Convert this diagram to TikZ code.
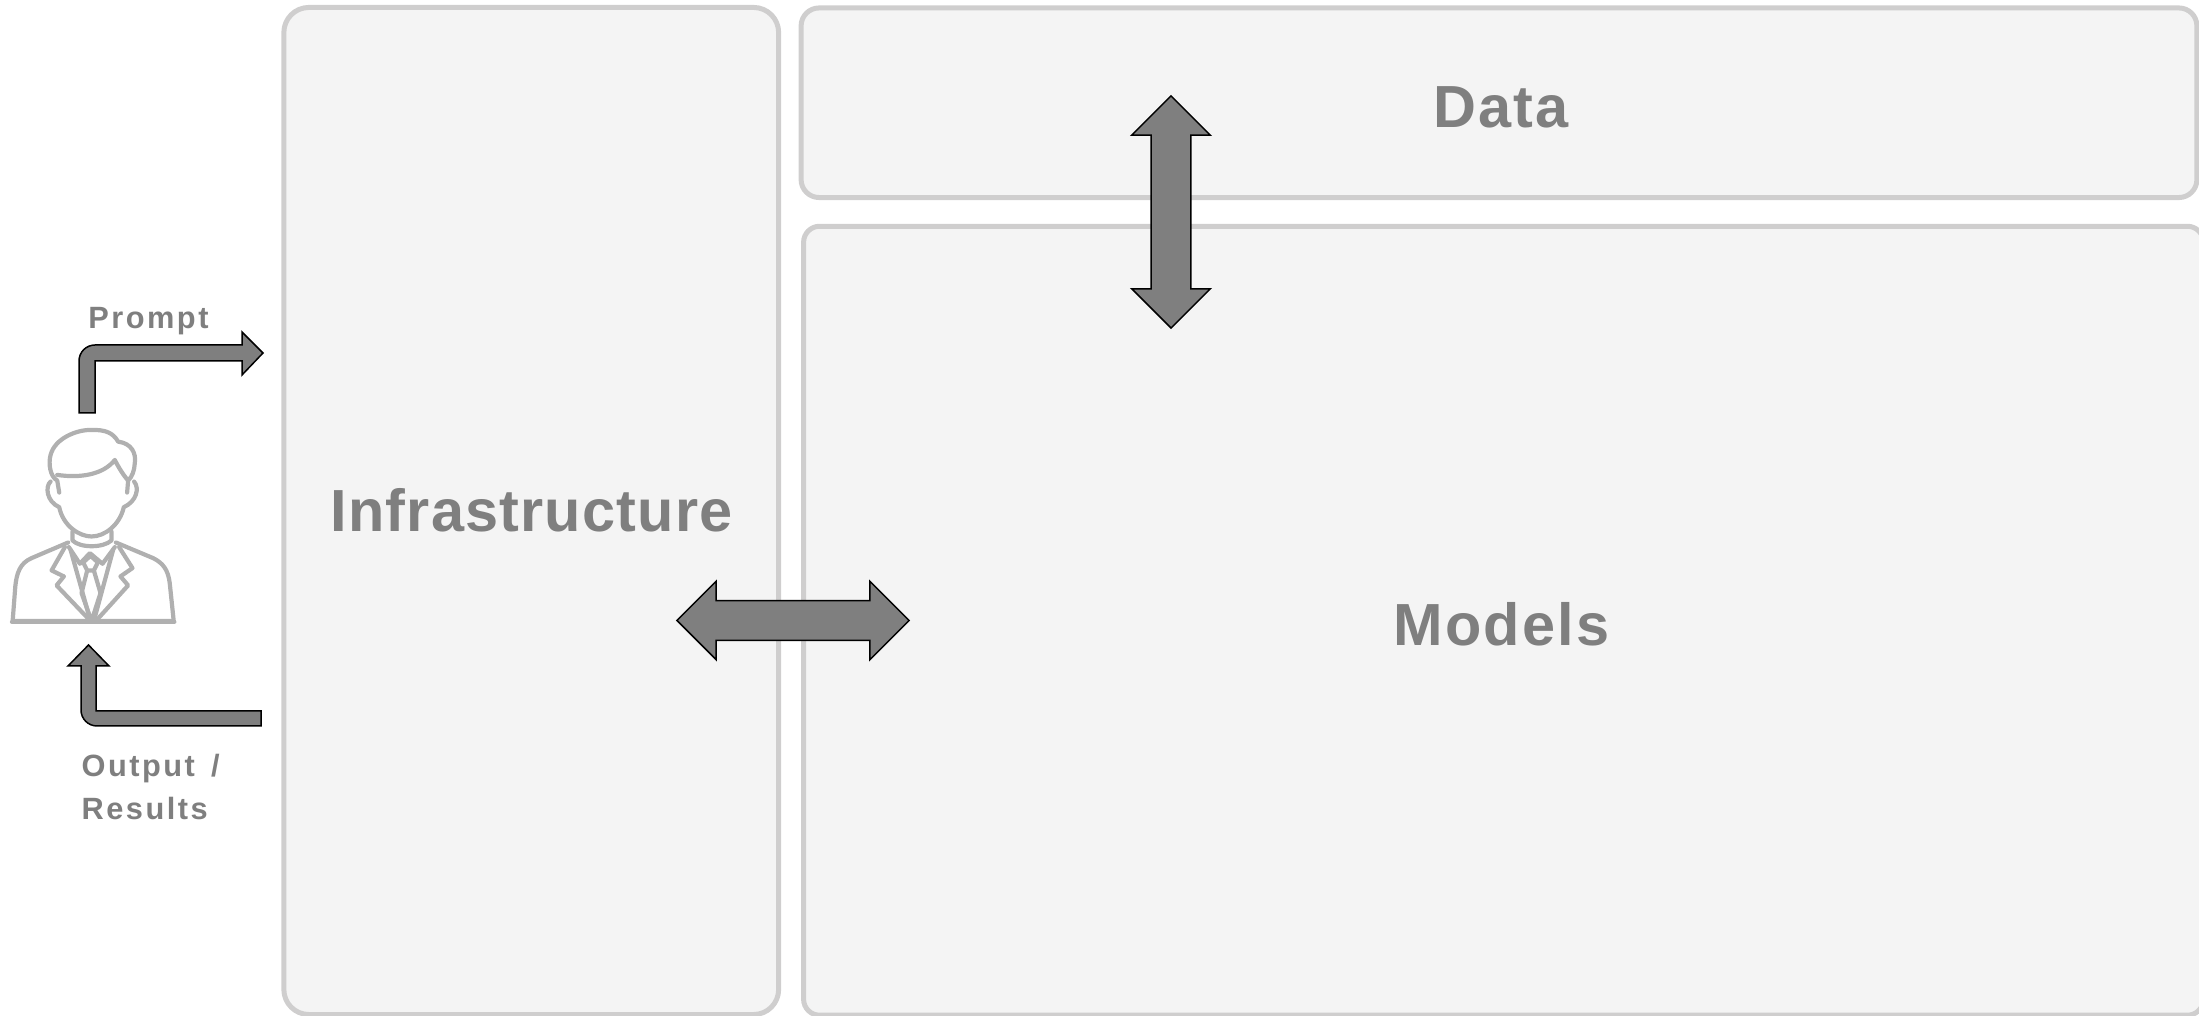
\documentclass[tikz,border=0pt]{standalone}
\usepackage{fontspec}
\usetikzlibrary{shapes.arrows}
\setmainfont{Liberation Sans}
\newfontfamily\headfont[LetterSpace=4]{Liberation Sans}
\newfontfamily\widehead[LetterSpace=2]{Liberation Sans}
\newfontfamily\smallfont[LetterSpace=8]{Liberation Sans}
\definecolor{panelfill}{HTML}{F4F4F4}
\definecolor{panelline}{HTML}{CFCECE}
\definecolor{inkgray}{HTML}{7F7F7F}
\definecolor{icongray}{HTML}{B0B0B0}
\begin{document}
\begin{tikzpicture}[
    x=0.01cm, y=-0.01cm,
    panel/.style={draw=panelline, fill=panelfill, line width=0.05cm, rounded corners=#1, inner sep=0, outer sep=0},
    headlabel/.style={text=inkgray, inner sep=0, anchor=base, font=\headfont\bfseries\fontsize{16.9}{20}\selectfont},
    smalllabel/.style={text=inkgray, inner sep=0, align=left, font=\smallfont\bfseries\fontsize{8.75}{12.2}\selectfont},
    blockarrow/.style={draw=black, fill=inkgray, line width=0.015cm, line join=miter},
    twoway/.style={double arrow, blockarrow, minimum height=2.32cm, minimum width=0.77cm, double arrow head extend=0.195cm, double arrow tip angle=90, inner sep=0.19cm, outer sep=0},
    icon/.style={draw=icongray, line width=0.042cm, line join=round, line cap=round}
]
    \useasboundingbox (0,0) rectangle (2199,1016);

    % panels
    \node[panel=0.25cm, minimum width=4.945cm, minimum height=10.065cm] (infra) at (531.25,511) {};
    \node[panel=0.18cm, minimum width=13.95cm, minimum height=1.895cm] (data) at (1499,102.75) {};
    \node[panel=0.16cm, minimum width=13.99cm, minimum height=7.885cm] (models) at (1503.5,620.75) {};

    \node[headlabel, font=\widehead\bfseries\fontsize{16.9}{20}\selectfont] (infralabel) at (531.5,532) {Infrastructure};
    \node[headlabel] (datalabel) at (1501,128) {Data};
    \node[headlabel] (modelslabel) at (1501.5,646) {Models};

    % double arrows between panels
    \node[twoway] (infralink) at (793,620.5) {};
    \node[twoway, shape border rotate=90] (datalink) at (1171,212) {};

    % bent arrows
    \coordinate (promptfrom) at (87,413);
    \coordinate (promptto) at (263,353);
    \coordinate (outputfrom) at (261,718.5);
    \coordinate (outputto) at (88.5,645);

    \draw[blockarrow] (promptfrom) -- ++(-8,0) [rounded corners=0.16cm] -- ++(0,-68) [sharp corners] -- ++(163,0)
        -- ++(0,-13) -- (promptto) -- ++(-21,22) -- ++(0,-14) -- ++(-147,0) -- ++(0,52) -- cycle;
    \draw[blockarrow] (outputfrom) -- ++(0,-7.5) -- ++(-165,0) -- ++(0,-45) -- ++(13,0)
        -- (outputto) -- ++(-20.5,21) -- ++(13,0) [rounded corners=0.16cm] -- ++(0,60) [sharp corners] -- ++(180,0) -- cycle;

    \node[smalllabel, anchor=base] (promptlabel) at (148.5,329) {Prompt};
    \node[smalllabel, anchor=north west] (outputlabel) at (81,754) {Output\hspace{1.5pt} /\\Results};

    % person
    \begin{scope}[shift={(0,420)}, x=0.003333cm, y=-0.003333cm]
        % hair
        \draw[icon] (178,218) -- (172,182) .. controls (150,170) and (145,130) .. (152,105)
            .. controls (165,55) and (230,30) .. (270,30) .. controls (320,28) and (340,40) .. (355,65)
            .. controls (395,70) and (410,100) .. (405,130) .. controls (404,150) and (398,170) .. (385,182) -- (382,218);
        \draw[icon] (172,165) .. controls (240,175) and (310,165) .. (345,120) .. controls (355,140) and (370,165) .. (385,182);
        % ears and face
        \draw[icon] (152,185) .. controls (135,200) and (140,245) .. (178,262)
            .. controls (190,320) and (240,350) .. (275,350) .. controls (315,350) and (360,315) .. (372,262)
            .. controls (410,245) and (420,205) .. (403,185);
        % neck and collar
        \draw[icon] (218,335) -- (218,362) .. controls (240,385) and (310,385) .. (335,362) -- (335,335);
        % shoulders
        \draw[icon] (205,368) -- (95,415) .. controls (60,430) and (50,460) .. (46,500) -- (38,604) -- (522,604)
            -- (510,490) .. controls (505,450) and (490,430) .. (460,415) -- (348,368);
        \draw[icon] (36,606) -- (524,606);
        % lapels
        \draw[icon] (195,382) -- (155,452) -- (192,470) -- (170,497) -- (272,604);
        \draw[icon] (358,382) -- (398,445) -- (362,470) -- (385,497) -- (288,604);
        % shirt and tie
        \draw[icon] (207,382) -- (240,432) -- (270,400) -- (308,432) -- (345,382);
        \draw[icon] (250,428) -- (272,408) -- (294,428) -- (282,452) -- (262,452) -- cycle;
        \draw[icon] (262,452) -- (245,520) -- (275,604) -- (302,520) -- (282,452);
        \draw[icon] (212,390) -- (272,604);
        \draw[icon] (340,390) -- (282,604);
    \end{scope}
\end{tikzpicture}
\end{document}
